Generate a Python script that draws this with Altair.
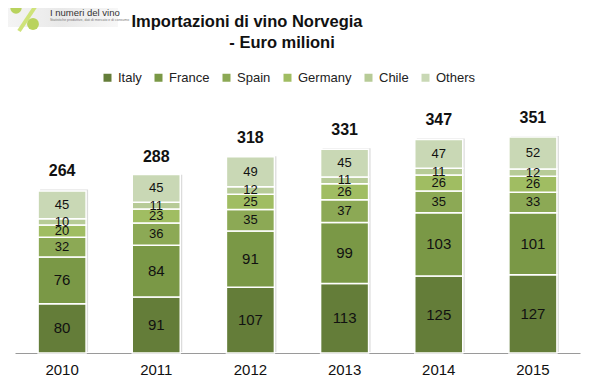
import altair as alt
import pandas as pd

years = ["2010", "2011", "2012", "2013", "2014", "2015"]
countries = ["Italy", "France", "Spain", "Germany", "Chile", "Others"]
italy = [80, 91, 107, 113, 125, 127]
france = [76, 84, 91, 99, 103, 101]
spain = [32, 36, 35, 37, 35, 33]
germany = [20, 23, 25, 26, 26, 26]
chile = [10, 11, 12, 11, 11, 12]
others = [45, 45, 49, 45, 47, 52]
totals = [264, 288, 318, 331, 347, 351]

colors = ["#647d39", "#7a9846", "#8ca955", "#a0bd62", "#b7cb97", "#c9d8b5"]
label_sizes = [15, 15, 13, 13, 13, 13]

series = [italy, france, spain, germany, chile, others]
rows = []
for ci, (c, vals) in enumerate(zip(countries, series)):
    for yi, y in enumerate(years):
        rows.append({"year": y, "country": c, "idx": ci, "value": vals[yi],
                     "fs": label_sizes[ci]})
df = pd.DataFrame(rows)
tot_df = pd.DataFrame({"year": years, "total": totals})

FONT = "Liberation Sans, Arial"
xenc = alt.X("year:N", sort=years, title=None,
             axis=alt.Axis(labelAngle=0, labelFontSize=15, labelColor="#111",
                           labelFont=FONT, ticks=False, domainColor="#9a9a9a",
                           domainWidth=1, labelPadding=9))
yscale = alt.Scale(domain=[0, 411], nice=False)

stacked = alt.Chart(df).transform_stack(
    stack="value", as_=["y0", "y1"], groupby=["year"],
    sort=[alt.SortField("idx", order="ascending")]
).transform_calculate(mid="(datum.y0 + datum.y1) / 2")

shadow = alt.Chart(tot_df).mark_bar(size=48, color="#dcdcdc", xOffset=2, yOffset=-1).encode(
    x=xenc,
    y=alt.Y("total:Q", scale=yscale, axis=None),
)

bars = stacked.mark_bar(size=48, stroke="white", strokeWidth=1.5).encode(
    x=xenc,
    y=alt.Y("y0:Q", scale=yscale, axis=None),
    y2="y1:Q",
    color=alt.Color("country:N", sort=countries,
                    scale=alt.Scale(domain=countries, range=colors),
                    legend=alt.Legend(title=None, orient="none", direction="horizontal",
                                      legendX=86, legendY=-29, symbolType="square",
                                      symbolSize=64, symbolStrokeWidth=0,
                                      labelFontSize=13, labelFont=FONT, labelColor="#222",
                                      labelOffset=4, columnPadding=10)),
    order=alt.Order("idx:Q"),
)

seg_labels = stacked.mark_text(font=FONT, color="#111", baseline="middle").encode(
    x=xenc,
    y=alt.Y("mid:Q", scale=yscale, axis=None),
    text="value:Q",
    size=alt.Size("fs:Q", scale=None, legend=None),
)

tot_labels = alt.Chart(tot_df).mark_text(font=FONT, fontWeight="bold", fontSize=16,
                                         color="#111", baseline="alphabetic", dy=-14).encode(
    x=xenc,
    y=alt.Y("total:Q", scale=yscale, axis=None),
    text="total:Q",
)

one = pd.DataFrame({"a": [0]})
title_font = "Liberation Sans Narrow, Arial Narrow, Liberation Sans, Arial"
title1 = alt.Chart(one).mark_text(text="Importazioni di vino Norvegia", font=title_font,
                                  fontWeight="bold", fontSize=16.5, color="#111",
                                  baseline="alphabetic").encode(x=alt.value(232), y=alt.value(-73))
title2 = alt.Chart(one).mark_text(text="- Euro milioni", font=title_font,
                                  fontWeight="bold", fontSize=16.5, color="#111",
                                  baseline="alphabetic").encode(x=alt.value(267), y=alt.value(-52))

logo_bg = alt.Chart(one).mark_rect(
    color=alt.Gradient(gradient="linear", x1=0, y1=0, x2=1, y2=0,
                       stops=[alt.GradientStop(color="#f4f4f4", offset=0),
                              alt.GradientStop(color="#e9e9e9", offset=0.5),
                              alt.GradientStop(color="#f7f7f7", offset=1)])
).encode(x=alt.value(-8), x2=alt.value(103), y=alt.value(-93), y2=alt.value(-73))
logo_bar = alt.Chart(one).mark_rule(color="#cfe37a", strokeWidth=4).encode(
    x=alt.value(20), x2=alt.value(4), y=alt.value(-93), y2=alt.value(-69))
grapes = alt.Chart(pd.DataFrame({"gx": [1, 18], "gy": [-92, -76], "gs": [130, 140]})).mark_circle(
    color="#b9d35e", opacity=1).encode(
    x=alt.X("gx:Q", scale=None), y=alt.Y("gy:Q", scale=None),
    size=alt.Size("gs:Q", scale=None, legend=None))
logo_txt = alt.Chart(one).mark_text(text="I numeri del vino", font="Liberation Sans, Arial",
                                    fontSize=9.5, color="#333", align="left",
                                    baseline="alphabetic").encode(x=alt.value(35), y=alt.value(-84))
logo_sub = alt.Chart(one).mark_text(text="Statistiche produttive, dati di mercato e di consumo",
                                    font="Liberation Sans, Arial", fontSize=3.5, color="#777",
                                    align="left", baseline="alphabetic").encode(
    x=alt.value(35), y=alt.value(-79))

chart = alt.layer(
    logo_bg, logo_bar, grapes, logo_txt, logo_sub, title1, title2,
    shadow, bars, seg_labels, tot_labels
).resolve_scale(size="independent").properties(
    width=565, height=253,
    autosize=alt.AutoSizeParams(type="none"),
    padding={"left": 7, "top": 92, "right": 11, "bottom": 28},
    background="white",
).configure_view(stroke=None)

chart.save("out.html", embed_options={"renderer": "svg", "actions": False})
